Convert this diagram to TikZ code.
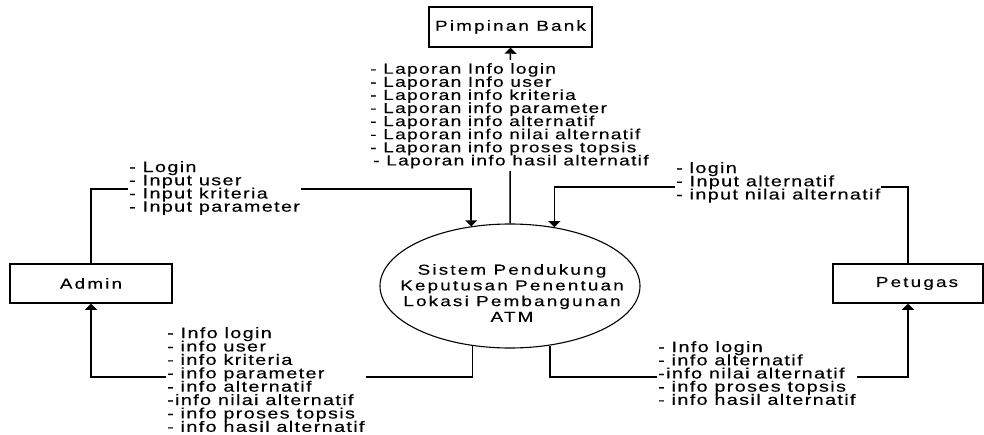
\documentclass[tikz,border=0pt]{standalone}
\usepackage{fontspec}
\setmainfont{Liberation Sans}[FakeStretch=1.32,LetterSpace=9,FakeBold=0.3]
\newfontfamily\boxfam{Liberation Sans}[FakeStretch=1.3,LetterSpace=15,FakeBold=0.3]
\usetikzlibrary{shapes.geometric,arrows.meta}
\begin{document}
\begin{tikzpicture}[x=1pt,y=-1pt,
  box/.style={draw, line width=1.5pt, inner sep=0pt, font=\boxfam\fontsize{14.5}{16}\selectfont},
  proc/.style={draw, ellipse, line width=1.1pt, inner sep=0pt, minimum width=260pt, minimum height=124pt},
  proctext/.style={align=center, inner sep=0pt, font={\boxfam\fontsize{14.5}{15.7}\selectfont\lineskiplimit=-8pt}},
  lbl/.style={fill=white, inner xsep=1pt, inner ysep=1pt, align=left, anchor=north west, font={\fontsize{15}{13.2}\selectfont\lineskiplimit=-8pt}},
  flow/.style={line width=1.5pt, -{Triangle[length=6pt,width=12pt]}}]
\useasboundingbox (0,0) rectangle (984,435);
% entities
\node[box, minimum width=163pt, minimum height=40pt] (bank) at (510.5,27) {Pimpinan Bank};
\node[box, minimum width=162pt, minimum height=39pt] (admin) at (91,283.5) {Admin};
\node[box, minimum width=150pt, minimum height=39pt] (petugas) at (908,283.5) {\hspace*{18pt}Petugas};
% process
\node[proc] (sys) at (510,286) {};
\node[proctext] (systext) at (512,293) {Sistem Pendukung\\Keputusan Penentuan\\Lokasi Pembangunan\\ATM};
% helper coordinates
\coordinate (ya) at (0,189);
\coordinate (yp) at (0,187);
\coordinate (yo) at (0,377);
% flows
\draw[flow] (sys.north) -- (bank.south);
\draw[flow] (admin.north) |- (sys.123.4 |- ya) -- (sys.123.4);
\draw[flow] (petugas.north) |- (sys.53.7 |- yp) -- (sys.53.7);
\draw[flow] (sys.238.9) |- (admin.south |- yo) -- (admin.south);
\draw[flow] (sys.304.1) |- (petugas.south |- yo) -- (petugas.south);
% labels
\node[lbl, inner ysep=3pt, font={\fontsize{14.5}{13.1}\selectfont\lineskiplimit=-8pt}] (lbank) at (369,60) {- Laporan Info login\\- Laporan Info user\\- Laporan info kriteria\\- Laporan info parameter\\- Laporan info alternatif\\- Laporan info nilai alternatif\\- Laporan info proses topsis\\\hspace*{3pt}- Laporan info hasil alternatif};
\node[lbl] (lain) at (128,160) {- Login\\- Input user\\- Input kriteria\\- Input parameter};
\node[lbl] (lpin) at (675,161) {- login\\- Input alternatif\\- input nilai alternatif};
\node[lbl, font={\fontsize{15}{13.4}\selectfont\lineskiplimit=-8pt}] (laout) at (166,326) {- Info login\\- info user\\- info kriteria\\- info parameter\\- info alternatif\\-info nilai alternatif\\- info proses topsis\\- info hasil alternatif};
\node[lbl] (lpout) at (657,340) {- Info login\\- info alternatif\\-info nilai alternatif\\- info proses topsis\\- info hasil alternatif};
\end{tikzpicture}
\end{document}
